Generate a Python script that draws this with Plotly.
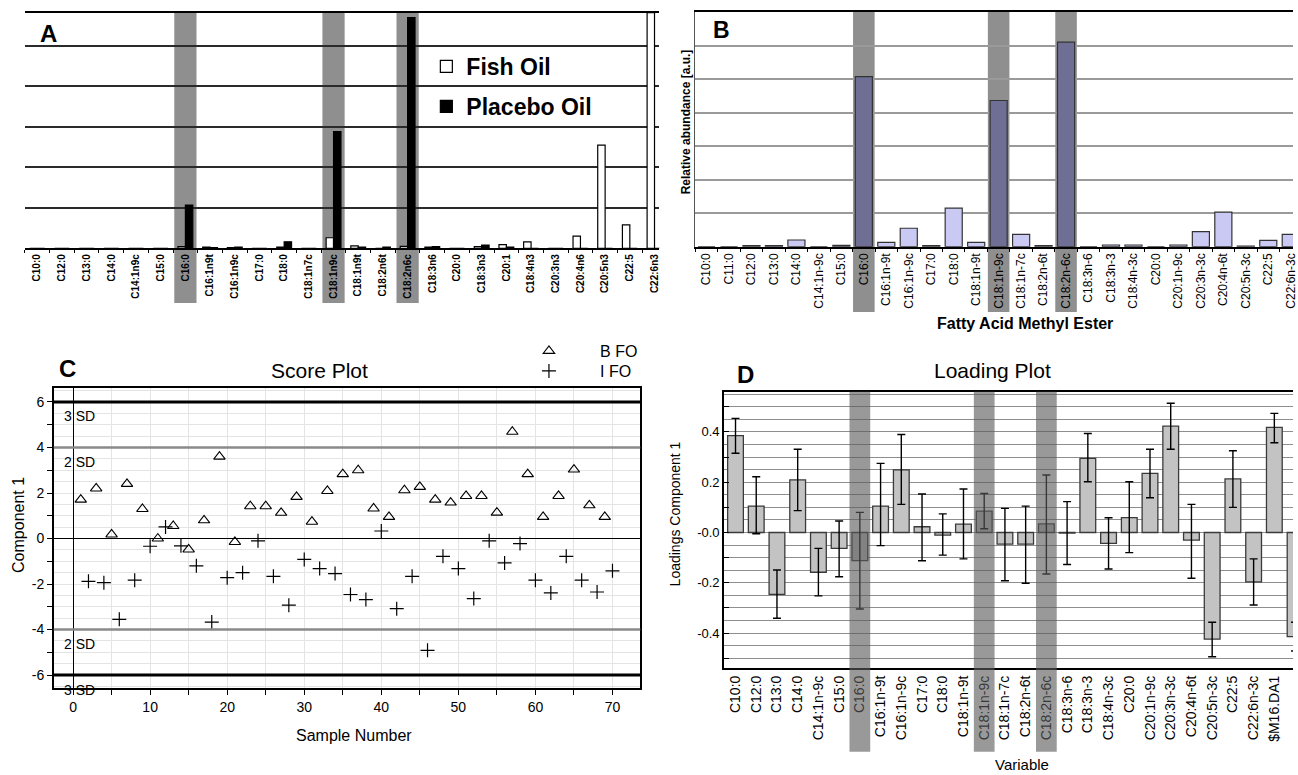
import plotly.graph_objects as go

W, H = 1298, 775
FONT = "Arial, Liberation Sans, sans-serif"

def px(x):
    return x / W

def py(y):
    return 1 - y / H

# ---------------- Panel A data ----------------
a_cats = ["C10:0", "C12:0", "C13:0", "C14:0", "C14:1n9c", "C15:0", "C16:0", "C16:1n9t",
          "C16:1n9c", "C17:0", "C18:0", "C18:1n7c", "C18:1n9c", "C18:1n9t", "C18:2n6t",
          "C18:2n6c", "C18:3n6", "C20:0", "C18:3n3", "C20:1", "C18:4n3", "C20:3n3",
          "C20:4n6", "C20:5n3", "C22:5", "C22:6n3"]
a_fish = [0, 0, 0, 0, 0, 0, 0.04, 0.03, 0.02, 0, 0.03, 0, 0.26, 0.06, 0, 0.05, 0.03, 0,
          0.04, 0.09, 0.16, 0, 0.30, 2.55, 0.58, 5.82]
a_placebo = [0, 0, 0, 0, 0, 0, 1.07, 0.02, 0.03, 0, 0.16, 0, 2.88, 0.03, 0.03, 5.70, 0.04, 0,
             0.08, 0.03, 0, 0, 0, 0, 0, 0]
a_highlight = ["C16:0", "C18:1n9c", "C18:2n6c"]

# ---------------- Panel B data ----------------
b_cats = ["C10:0", "C11:0", "C12:0", "C13:0", "C14:0", "C14:1n-9c", "C15:0", "C16:0",
          "C16:1n-9t", "C16:1n-9c", "C17:0", "C18:0", "C18:1n-9t", "C18:1n-9c", "C18:1n-7c",
          "C18:2n-6t", "C18:2n-6c", "C18:3n-6", "C18:3n-3", "C18:4n-3c", "C20:0", "C20:1n-9c",
          "C20:3n-3c", "C20:4n-6t", "C20:5n-3c", "C22:5", "C22:6n-3c"]
b_vals = [0, 0, 0.03, 0.03, 0.20, 0, 0.04, 5.07, 0.13, 0.55, 0.03, 1.15, 0.13, 4.36, 0.37,
          0.03, 6.10, 0, 0.05, 0.05, 0, 0.05, 0.45, 1.03, 0.02, 0.19, 0.37]
b_highlight = ["C16:0", "C18:1n-9c", "C18:2n-6c"]

# ---------------- Panel C data ----------------
c_bfo_x = [1, 3, 5, 7, 9, 11, 13, 15, 17, 19, 21, 23, 25, 27, 29, 31, 33, 35, 37, 39, 41, 43,
           45, 47, 49, 51, 53, 55, 57, 59, 61, 63, 65, 67, 69]
c_bfo_y = [1.71, 2.2, 0.18, 2.4, 1.3, 0.0, 0.55, -0.48, 0.8, 3.6, -0.15, 1.42, 1.42, 1.13,
           1.83, 0.74, 2.09, 2.83, 3.0, 1.32, 0.95, 2.12, 2.27, 1.71, 1.58, 1.87, 1.87, 1.14,
           4.69, 2.83, 0.95, 1.87, 3.03, 1.46, 0.95]
c_ifo_x = [2, 4, 6, 8, 10, 12, 14, 16, 18, 20, 22, 24, 26, 28, 30, 32, 34, 36, 38, 40, 42, 44,
           46, 48, 50, 52, 54, 56, 58, 60, 62, 64, 66, 68, 70]
c_ifo_y = [-1.88, -1.94, -3.55, -1.83, -0.34, 0.51, -0.32, -1.2, -3.67, -1.72, -1.5, -0.1,
           -1.66, -2.93, -0.92, -1.32, -1.54, -2.46, -2.68, 0.33, -3.08, -1.66, -4.91, -0.78,
           -1.32, -2.64, -0.1, -1.07, -0.22, -1.83, -2.39, -0.78, -1.83, -2.35, -1.42]
c_sd_levels = [6, 4, -4, -6]
c_sd_labels = ["3 SD", "2 SD", "2 SD", "3 SD"]
c_sd_colors = ["black", "#8a8a8a", "#8a8a8a", "black"]
c_sd_widths = [3, 2.5, 2.5, 3]
c_ytickvals = [-6, -5, -4, -3, -2, -1, 0, 1, 2, 3, 4, 5, 6]
c_yticktext = ["-6", "", "-4", "", "-2", "", "0", "", "2", "", "4", "", "6"]

# ---------------- Panel D data ----------------
d_cats = ["C10:0", "C12:0", "C13:0", "C14:0", "C14:1n-9c", "C15:0", "C16:0", "C16:1n-9t",
          "C16:1n-9c", "C17:0", "C18:0", "C18:1n-9t", "C18:1n-9c", "C18:1n-7c", "C18:2n-6t",
          "C18:2n-6c", "C18:3n-6", "C18:3n-3", "C18:4n-3c", "C20:0", "C20:1n-9c", "C20:3n-3c",
          "C20:4n-6t", "C20:5n-3c", "C22:5", "C22:6n-3c", "$M16.DA1", "$M16.DA2"]
d_vals = [0.385, 0.105, -0.246, 0.209, -0.158, -0.063, -0.112, 0.105, 0.249, 0.023, -0.010,
          0.033, 0.085, -0.046, -0.046, 0.034, -0.002, 0.295, -0.043, 0.059, 0.235, 0.423,
          -0.030, -0.424, 0.213, -0.196, 0.418, -0.414]
d_hi = [0.454, 0.222, -0.149, 0.331, -0.063, 0.046, 0.080, 0.275, 0.390, 0.153, 0.074, 0.173,
        0.155, 0.096, 0.105, 0.229, 0.123, 0.394, 0.059, 0.202, 0.331, 0.514, 0.112, -0.357,
        0.325, -0.105, 0.474, -0.357]
d_lo = [0.315, -0.005, -0.341, 0.087, -0.252, -0.176, -0.304, -0.052, 0.112, -0.112, -0.090,
        -0.105, 0.015, -0.192, -0.202, -0.165, -0.127, 0.202, -0.145, -0.080, 0.138, 0.331,
        -0.182, -0.494, 0.100, -0.288, 0.357, -0.471]
d_highlight = ["C16:0", "C18:1n-9c", "C18:2n-6c"]
d_ytickvals = [-0.5, -0.4, -0.3, -0.2, -0.1, 0.0, 0.1, 0.2, 0.3, 0.4, 0.5]
d_yticktext = ["", "-0.4", "", "-0.2", "", "-0.0", "", "0.2", "", "0.4", ""]

fig = go.Figure()

# Panel A bars
fig.add_trace(go.Bar(x=a_cats, y=a_fish, name="Fish Oil",
                     marker=dict(color="white", line=dict(color="black", width=1.2)),
                     xaxis="x", yaxis="y", legend="legend", legendgroup="fish"))
fig.add_trace(go.Bar(x=a_cats, y=a_placebo, name="Placebo Oil",
                     marker=dict(color="black", line=dict(color="black", width=1.2)),
                     xaxis="x", yaxis="y", legend="legend", legendgroup="placebo"))

# Panel B bars
b_colors = ["#6f6f96" if c in b_highlight else "#c9c9f4" for c in b_cats]
fig.add_trace(go.Bar(x=b_cats, y=b_vals, width=0.76,
                     marker=dict(color=b_colors, line=dict(color="#333333", width=1.2)),
                     xaxis="x2", yaxis="y2", showlegend=False))

# Panel C scatter
NB = "\u00a0" * 7
fig.add_trace(go.Scatter(x=c_bfo_x, y=c_bfo_y, mode="markers", name=NB + "B FO",
                         marker=dict(symbol="triangle-up-open", size=10, color="black",
                                     line=dict(width=1.1, color="black")),
                         xaxis="x3", yaxis="y3", legend="legend2"))
fig.add_trace(go.Scatter(x=c_ifo_x, y=c_ifo_y, mode="markers", name=NB + "I FO",
                         marker=dict(symbol="cross-thin-open", size=10, color="black",
                                     line=dict(width=1.2, color="black")),
                         xaxis="x3", yaxis="y3", legend="legend3"))

# Panel D bars with error bars
err_plus = [h - v for h, v in zip(d_hi, d_vals)]
err_minus = [v - l for v, l in zip(d_vals, d_lo)]
fig.add_trace(go.Bar(x=d_cats, y=d_vals, width=0.76,
                     marker=dict(color="#c3c3c3", line=dict(color="#3a3a3a", width=1.3)),
                     error_y=dict(type="data", symmetric=False, array=err_plus, arrayminus=err_minus,
                                  color="black", thickness=1.4, width=4),
                     xaxis="x4", yaxis="y4", showlegend=False))

shapes = []
for c in a_highlight:
    i = a_cats.index(c)
    shapes.append(dict(type="rect", xref="x", yref="paper", x0=i - 0.45, x1=i + 0.45,
                       y0=py(303), y1=py(12.7), fillcolor="#8f8f8f", line=dict(width=0), layer="below"))
for c in b_highlight:
    i = b_cats.index(c)
    shapes.append(dict(type="rect", xref="x2", yref="paper", x0=i - 0.48, x1=i + 0.48,
                       y0=py(312), y1=py(12), fillcolor="#8f8f8f", line=dict(width=0), layer="below"))
for c in d_highlight:
    i = d_cats.index(c)
    shapes.append(dict(type="rect", xref="x4", yref="paper", x0=i - 0.5, x1=i + 0.5,
                       y0=py(751.7), y1=py(391.7), fillcolor="rgba(90,90,90,0.62)",
                       line=dict(width=0), layer="above"))
for lvl, col, w in zip(c_sd_levels, c_sd_colors, c_sd_widths):
    shapes.append(dict(type="line", xref="x3 domain", yref="y3", x0=0, x1=1, y0=lvl, y1=lvl,
                       line=dict(color=col, width=w), layer="above"))

annotations = []
def ann(text, x, y, size, bold=False, angle=0, xanchor="center", xref="paper", yref="paper"):
    annotations.append(dict(text=text, x=x, y=y, xref=xref, yref=yref, showarrow=False,
                            xanchor=xanchor, yanchor="middle", textangle=angle,
                            font=dict(family=FONT, size=size, color="black",
                                      weight="bold" if bold else "normal")))

ann("A", px(48.5), py(33.5), 24, bold=True)
ann("B", px(724), py(30), 23, bold=True)
ann("C", px(68), py(368.5), 24, bold=True)
ann("D", px(748.5), py(374), 24, bold=True)
ann("Score Plot", px(321), py(370), 21)
ann("Loading Plot", px(996.5), py(370), 21)
ann("Relative abundance [a.u.]", px(689), py(122), 12, bold=True, angle=-90)
ann("Fatty Acid Methyl Ester", px(1029), py(323), 16, bold=True)
ann("Component 1", px(18), py(525), 16, angle=-90)
ann("Sample Number", px(355), py(735), 16)
ann("Loadings Component 1", px(678), py(514), 14, angle=-90)
ann("Variable", px(1026), py(764), 15)
# SD labels (pixel rows)
sd_label_rows = [416, 462, 644, 690]
for lab, row in zip(c_sd_labels, sd_label_rows):
    ann(lab, px(62), py(row), 14, xanchor="left")

layout = dict(
    width=W, height=H, margin=dict(l=0, r=0, t=0, b=0),
    paper_bgcolor="white", plot_bgcolor="white",
    font=dict(family=FONT, color="black"),
    barmode="group", bargap=0.4, bargroupgap=0,
    shapes=shapes, annotations=annotations,
    # Panel A
    xaxis=dict(domain=[px(25), px(662)], anchor="y", type="category", range=[-0.5, 25.2],
               showline=True, mirror=True, linecolor="black", linewidth=1.8,
               ticks="outside", ticklen=3, tickcolor="black", tickson="boundaries",
               tickangle=-90, tickfont=dict(size=10, weight="bold", family=FONT),
               showgrid=False, zeroline=False, fixedrange=True),
    yaxis=dict(domain=[py(248.3), py(12.7)], anchor="x", range=[0, 5.82], dtick=1,
               showticklabels=False, showgrid=True, gridcolor="#2a2a2a", gridwidth=1.5,
               zeroline=False, showline=False, fixedrange=True),
    # Panel B
    xaxis2=dict(domain=[px(698), 1.0], anchor="y2", type="category", range=[-0.5, 26.1],
                showline=True, mirror=True, linecolor="black", linewidth=1.6,
                ticks="outside", ticklen=3, tickcolor="black", tickson="boundaries",
                tickangle=-90, tickfont=dict(size=12, family=FONT),
                showgrid=False, zeroline=False, fixedrange=True),
    yaxis2=dict(domain=[py(246.7), py(12)], anchor="x2", range=[0, 7.0], dtick=1,
                showticklabels=False, showgrid=True, gridcolor="#9a9a9a", gridwidth=1.5,
                zeroline=False, showline=True, linecolor="#555555", linewidth=1, fixedrange=True),
    # Panel C
    xaxis3=dict(domain=[px(54), px(642.7)], anchor="y3", range=[-2.5, 73.6],
                tickvals=[0, 10, 20, 30, 40, 50, 60, 70], ticks="outside", ticklen=5, tickcolor="black",
                tickfont=dict(size=14, family=FONT),
                showgrid=True, gridcolor="#e4e4e4", gridwidth=1,
                minor=dict(dtick=5, ticks="outside", ticklen=5, tickcolor="black",
                           showgrid=True, gridcolor="#e4e4e4"),
                zeroline=True, zerolinecolor="black", zerolinewidth=1,
                showline=True, mirror=True, linecolor="black", linewidth=1.5, fixedrange=True),
    yaxis3=dict(domain=[py(688.3), py(388.3)], anchor="x3", range=[-6.58, 6.6],
                tickmode="array", tickvals=c_ytickvals, ticktext=c_yticktext,
                ticks="outside", ticklen=5, tickcolor="black", tickfont=dict(size=14, family=FONT),
                showgrid=True, gridcolor="#e4e4e4", gridwidth=1,
                minor=dict(dtick=0.5, ticks="", showgrid=True, gridcolor="#e4e4e4"),
                zeroline=True, zerolinecolor="black", zerolinewidth=1,
                showline=True, mirror=True, linecolor="black", linewidth=1.5, fixedrange=True),
    # Panel D
    xaxis4=dict(domain=[px(726.7), 1.0], anchor="y4", type="category", range=[-0.56, 26.9],
                showline=True, mirror=True, linecolor="black", linewidth=1.6,
                ticks="", tickangle=-90, tickfont=dict(size=14, family=FONT),
                showgrid=False, zeroline=False, fixedrange=True),
    yaxis4=dict(domain=[py(668.3), py(391.7)], anchor="x4", range=[-0.54, 0.56],
                tickmode="array", tickvals=d_ytickvals, ticktext=d_yticktext,
                ticks="inside", ticklen=5, tickcolor="black", tickfont=dict(size=13, family=FONT),
                showgrid=True, gridcolor="#8e8e8e", gridwidth=1.3,
                minor=dict(dtick=0.05, ticks="", showgrid=True, gridcolor="#8e8e8e", gridwidth=1.3),
                zeroline=False, showline=True, linecolor="black", linewidth=1.5, fixedrange=True),
    legend=dict(x=px(428), y=py(45), xanchor="left", yanchor="top",
                font=dict(family=FONT, size=23, weight="bold"), bgcolor="rgba(0,0,0,0)",
                tracegroupgap=7, traceorder="grouped"),
    legend2=dict(x=px(531), y=py(334), xanchor="left", yanchor="top",
                 font=dict(family=FONT, size=16), bgcolor="rgba(0,0,0,0)"),
    legend3=dict(x=px(531), y=py(354), xanchor="left", yanchor="top",
                 font=dict(family=FONT, size=16), bgcolor="rgba(0,0,0,0)"),
)
fig.update_layout(**layout)

fig.write_html("out.html", config={"displayModeBar": False},
               post_script="document.body.style.margin='0';document.body.style.overflow='hidden';")
